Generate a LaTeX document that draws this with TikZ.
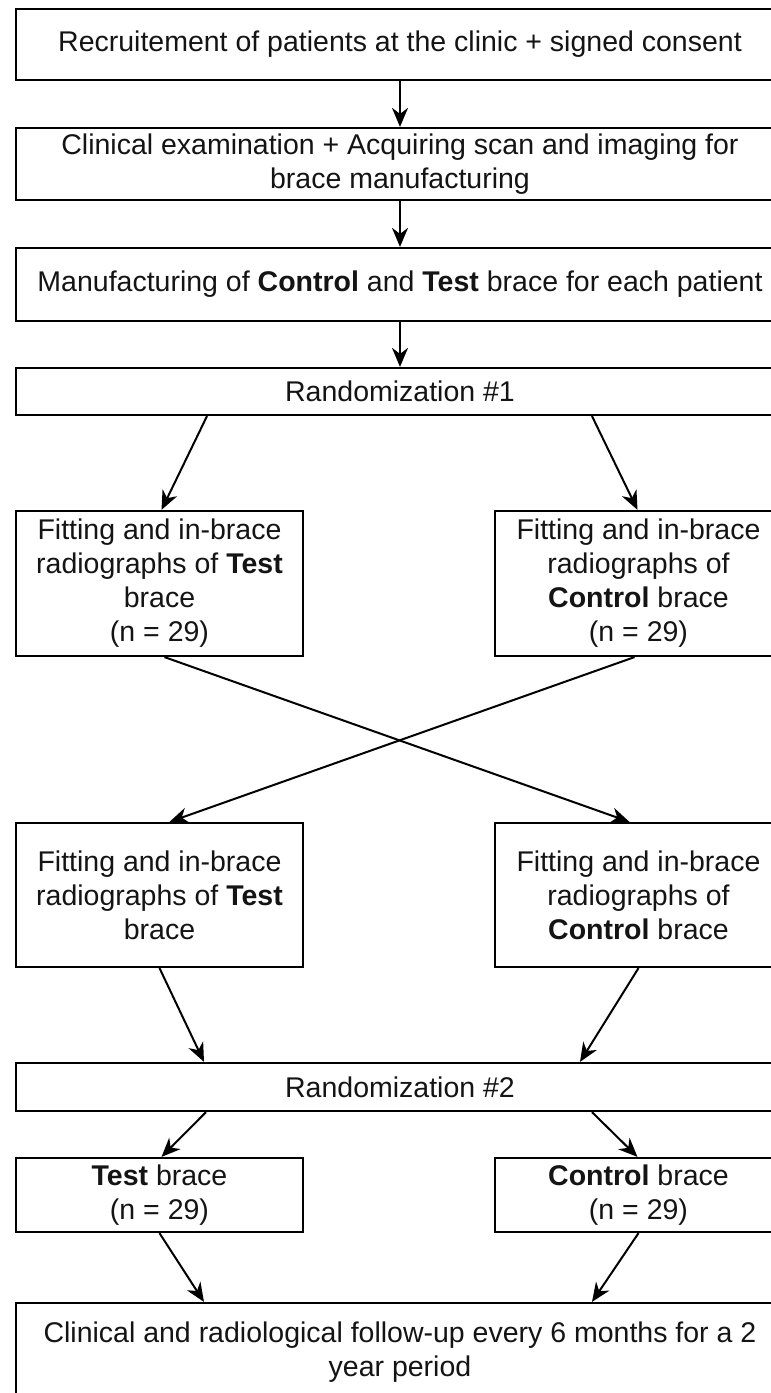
\documentclass[tikz,border=0pt]{standalone}
\usepackage{fontspec}
\setmainfont{Liberation Sans}
\usetikzlibrary{arrows.meta}
\begin{document}
\begin{tikzpicture}[x=1pt,y=-1pt,
  box/.style={draw=black, line width=2.2pt, fill=white, align=center, inner sep=0pt,
    font=\fontsize{28.5}{34}\selectfont, text=black!92},
  mainbox/.style={box, minimum width=768pt},
  sidebox/.style={box, minimum width=287pt},
  arr/.style={draw=black, line width=2pt, -{Stealth[length=19pt,width=16pt,inset=6pt]}}]
\useasboundingbox (0,0) rectangle (771,1393);
\clip (0,0) rectangle (771,1393);
\fill[white] (0,0) rectangle (771,1393);

\node[mainbox, minimum height=71pt] (b1) at (400,44.5) {Recruitement of patients at the clinic + signed consent};
\node[mainbox, minimum height=72pt] (b2) at (400,164) {Clinical examination + Acquiring scan and imaging for\\brace manufacturing};
\node[mainbox, minimum height=73pt] (b3) at (400,284.5) {Manufacturing of \textbf{Control} and \textbf{Test} brace for each patient};
\node[mainbox, minimum height=47pt] (r1) at (400,391.5) {Randomization \#1};

\node[sidebox, minimum height=145pt] (tA) at (159.5,583.5) {Fitting and in-brace\\radiographs of \textbf{Test}\\brace\\(n = 29)};
\node[sidebox, minimum height=145pt] (cA) at (638.5,583.5) {Fitting and in-brace\\radiographs of\\\textbf{Control} brace\\(n = 29)};

\node[sidebox, minimum height=144pt] (tB) at (159.5,895) {Fitting and in-brace\\radiographs of \textbf{Test}\\brace};
\node[sidebox, minimum height=144pt] (cB) at (638.5,895) {Fitting and in-brace\\radiographs of\\\textbf{Control} brace};

\node[mainbox, minimum height=48pt] (r2) at (400,1087) {Randomization \#2};

\node[sidebox, minimum height=74pt] (tC) at (159.5,1195) {\textbf{Test} brace\\(n = 29)};
\node[sidebox, minimum height=74pt] (cC) at (638.5,1195) {\textbf{Control} brace\\(n = 29)};

\node[mainbox, minimum height=98pt] (fin) at (400,1352) {Clinical and radiological follow-up every 6 months for a 2\\year period};

\draw[arr] (b1.south) -- (b2.north);
\draw[arr] (b2.south) -- (b3.north);
\draw[arr] (b3.south) -- (r1.north);

\draw[arr] ([xshift=-193pt]r1.south) -- ([xshift=2pt]tA.north);
\draw[arr] ([xshift=192pt]r1.south) -- ([xshift=-1pt]cA.north);

\draw[arr] ([xshift=5pt]tA.south) -- ([xshift=-9pt]cB.north);
\draw[arr] ([xshift=-4pt]cA.south) -- ([xshift=10pt]tB.north);

\draw[arr] (tB.south) -- ([xshift=-196pt]r2.north);
\draw[arr] (cB.south) -- ([xshift=180pt]r2.north);

\draw[arr] ([xshift=-194pt]r2.south) -- ([xshift=2pt]tC.north);
\draw[arr] ([xshift=192pt]r2.south) -- ([xshift=-1pt]cC.north);

\draw[arr] (tC.south) -- ([xshift=-196pt]fin.north);
\draw[arr] (cC.south) -- ([xshift=192pt]fin.north);
\end{tikzpicture}
\end{document}
